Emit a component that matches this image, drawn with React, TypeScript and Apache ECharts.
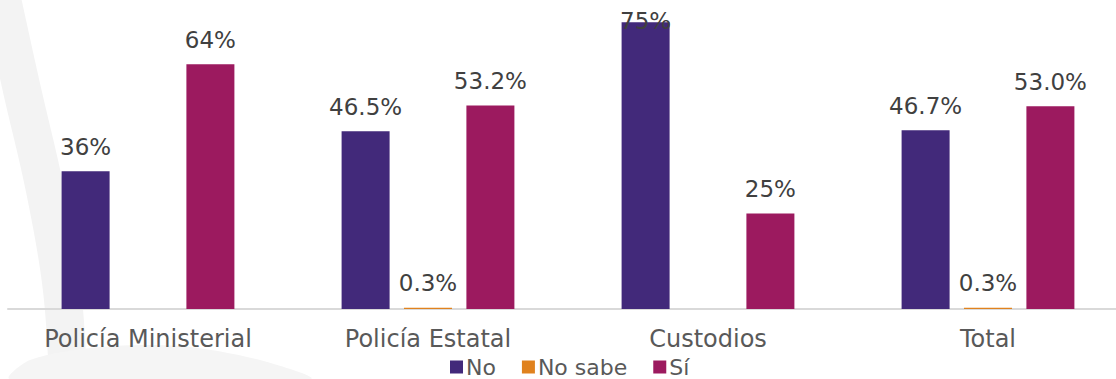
import React, { useEffect, useRef } from "react";
import * as echarts from "echarts";

const categories = ["Policía Ministerial", "Policía Estatal", "Custodios", "Total"];
const seriesNames = ["No", "No sabe", "Sí"];
const noValues = [36, 46.5, 75, 46.7];
const noSabeValues: (number | null)[] = [null, 0.3, null, 0.3];
const siValues = [64, 53.2, 25, 53.0];
const labelTexts = [
  ["36%", "46.5%", "75%", "46.7%"],
  ["", "0.3%", "", "0.3%"],
  ["64%", "53.2%", "25%", "53.0%"],
];
const colors = ["#42297a", "#e0821e", "#9c1a5f"];

const FONT = "DejaVu Sans";

export default function App() {
  const ref = useRef<HTMLDivElement>(null);
  useEffect(() => {
    document.body.style.margin = "0";
    document.body.style.overflow = "hidden";
    if (!ref.current) return;
    const chart = echarts.init(ref.current, undefined, { renderer: "svg" });
    const mk = (vals: (number | null)[]) =>
      vals.map((v) => {
        const item: any = { value: v };
        if (v !== null && v > 72) {
          item.label = { distance: -10 };
        }
        return item;
      });
    const allVals = [noValues, noSabeValues, siValues];
    chart.setOption({
      animation: false,
      textStyle: { fontFamily: FONT },
      graphic: [
        {
          type: "polyline",
          silent: true,
          z: -10,
          shape: { points: [[0, -10], [22, 90], [45, 190], [62, 290], [68, 390]], smooth: 0.4 },
          style: { stroke: "#f3f3f3", lineWidth: 38, fill: null },
        },
        {
          type: "polygon",
          silent: true,
          z: -10,
          shape: { points: [[10, 379], [30, 360], [100, 347], [180, 346], [260, 360], [310, 379]], smooth: 0.3 },
          style: { fill: "#f5f5f5" },
        },
      ],
      grid: { left: 8, top: 3, right: 0, bottom: 70, containLabel: false },
      legend: {
        data: seriesNames,
        left: 450,
        top: 356,
        padding: 0,
        itemWidth: 13,
        itemHeight: 13,
        itemGap: 26,
        icon: "rect",
        textStyle: { fontSize: 22, lineHeight: 22, color: "#595959", fontFamily: FONT, padding: [0, 0, 0, -2] },
      },
      xAxis: {
        type: "category",
        data: categories,
        axisLine: { lineStyle: { color: "#d9d9d9", width: 2 } },
        axisTick: { show: false },
        axisLabel: { fontSize: 24, color: "#595959", margin: 18, fontFamily: FONT },
      },
      yAxis: {
        type: "value",
        min: 0,
        max: 80,
        show: false,
        splitLine: { show: false },
      },
      series: seriesNames.map((name, si) => ({
        name,
        type: "bar",
        barWidth: 48,
        barGap: "30%",
        z: 2,
        itemStyle: { color: colors[si] },
        data: mk(allVals[si]),
        label: {
          show: true,
          position: "top",
          distance: 13,
          fontSize: 23,
          color: "#404040",
          fontFamily: FONT,
          formatter: (p: any) => labelTexts[si][p.dataIndex],
        },
      })),
    });
    return () => chart.dispose();
  }, []);
  return <div ref={ref} style={{ width: 1128, height: 379 }} />;
}
